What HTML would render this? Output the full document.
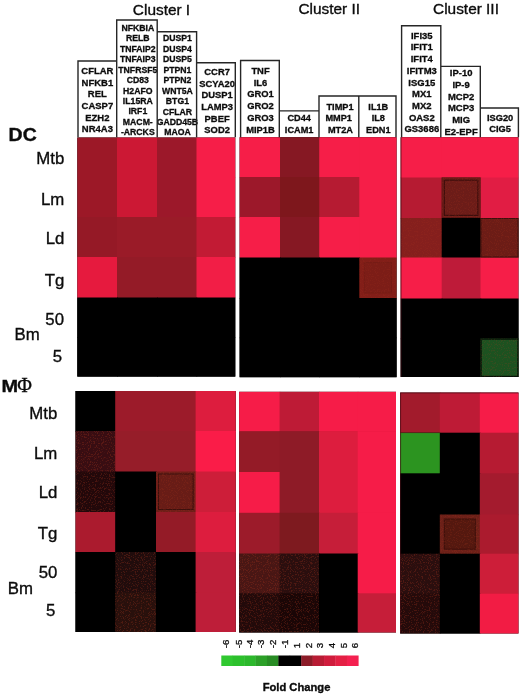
<!DOCTYPE html>
<html><head><meta charset="utf-8"><title>Figure</title>
<style>
html,body{margin:0;padding:0;background:#fff}
svg{display:block;font-family:"Liberation Sans",Arial,sans-serif}
.g text{font-weight:bold;text-anchor:middle;fill:#0c0c0c;stroke:#0c0c0c;stroke-width:.3px}
.t{fill:#0c0c0c;stroke:#0c0c0c;stroke-width:.35px}
.bd{font-weight:bold}
.phi{font-family:"Liberation Serif","DejaVu Serif",serif;font-weight:normal}
.r{fill:#0c0c0c;stroke:#0c0c0c;stroke-width:.3px}
</style></head><body>
<svg width="520" height="696" viewBox="0 0 520 696">
<defs><filter id="sp" x="0" y="0" width="100%" height="100%" color-interpolation-filters="sRGB">
<feTurbulence type="fractalNoise" baseFrequency="0.85" numOctaves="2" seed="7" result="n"/>
<feColorMatrix in="n" type="matrix" values="0 0 0 0 0  0 0 0 0 0  0 0 0 0 0  9 0 0 0 -4.9" result="a"/>
<feComposite in="SourceGraphic" in2="a" operator="in"/>
</filter></defs>
<rect width="520" height="696" fill="#fff"/>
<rect x="77.3" y="137.5" width="158.0" height="239.1" fill="#000000"/>
<rect x="77.3" y="137.5" width="40.4" height="40.2" fill="#9c1827"/>
<rect x="117" y="137.5" width="40.7" height="40.2" fill="#cc1834"/>
<rect x="157" y="137.5" width="40.2" height="40.2" fill="#9c182a"/>
<rect x="196.5" y="137.5" width="38.8" height="40.2" fill="#f61e48"/>
<rect x="77.3" y="177" width="40.4" height="40.7" fill="#9c1827"/>
<rect x="117" y="177" width="40.7" height="40.7" fill="#cc1834"/>
<rect x="157" y="177" width="40.2" height="40.7" fill="#9c182a"/>
<rect x="196.5" y="177" width="38.8" height="40.7" fill="#f61e48"/>
<rect x="77.3" y="217" width="40.4" height="40.7" fill="#951926"/>
<rect x="117" y="217" width="40.7" height="40.7" fill="#9a1b28"/>
<rect x="157" y="217" width="40.2" height="40.7" fill="#9a1b28"/>
<rect x="196.5" y="217" width="38.8" height="40.7" fill="#c21b34"/>
<rect x="77.3" y="257" width="40.4" height="41.2" fill="#e61a3e"/>
<rect x="117" y="257" width="40.7" height="41.2" fill="#941b27"/>
<rect x="157" y="257" width="40.2" height="41.2" fill="#941b27"/>
<rect x="196.5" y="257" width="38.8" height="41.2" fill="#f21e46"/>
<rect x="77.3" y="297.5" width="40.4" height="40.2" fill="#000000"/>
<rect x="117" y="297.5" width="40.7" height="40.2" fill="#000000"/>
<rect x="157" y="297.5" width="40.2" height="40.2" fill="#000000"/>
<rect x="196.5" y="297.5" width="38.8" height="40.2" fill="#000000"/>
<rect x="77.3" y="337" width="40.4" height="39.6" fill="#000000"/>
<rect x="117" y="337" width="40.7" height="39.6" fill="#000000"/>
<rect x="157" y="337" width="40.2" height="39.6" fill="#000000"/>
<rect x="196.5" y="337" width="38.8" height="39.6" fill="#000000"/>
<rect x="239.6" y="137.2" width="157.0" height="240.0" fill="#000000"/>
<rect x="239.6" y="137.2" width="41.1" height="40.5" fill="#f61e48"/>
<rect x="280" y="137.2" width="39.9" height="40.5" fill="#861823"/>
<rect x="319.2" y="137.2" width="40.8" height="40.5" fill="#f61e48"/>
<rect x="359.3" y="137.2" width="37.3" height="40.5" fill="#f61e48"/>
<rect x="239.6" y="177" width="41.1" height="40.7" fill="#9c182a"/>
<rect x="280" y="177" width="39.9" height="40.7" fill="#7e171c"/>
<rect x="319.2" y="177" width="40.8" height="40.7" fill="#b61b32"/>
<rect x="359.3" y="177" width="37.3" height="40.7" fill="#f61e48"/>
<rect x="239.6" y="217" width="41.1" height="41.2" fill="#f61e48"/>
<rect x="280" y="217" width="39.9" height="41.2" fill="#861823"/>
<rect x="319.2" y="217" width="40.8" height="41.2" fill="#f61e48"/>
<rect x="359.3" y="217" width="37.3" height="41.2" fill="#f61e48"/>
<rect x="239.6" y="257.5" width="41.1" height="41.2" fill="#000000"/>
<rect x="280" y="257.5" width="39.9" height="41.2" fill="#000000"/>
<rect x="319.2" y="257.5" width="40.8" height="41.2" fill="#000000"/>
<rect x="359.3" y="257.5" width="37.3" height="41.2" fill="#821e18"/>
<rect x="239.6" y="298" width="41.1" height="40.2" fill="#000000"/>
<rect x="280" y="298" width="39.9" height="40.2" fill="#000000"/>
<rect x="319.2" y="298" width="40.8" height="40.2" fill="#000000"/>
<rect x="359.3" y="298" width="37.3" height="40.2" fill="#000000"/>
<rect x="239.6" y="337.5" width="41.1" height="39.7" fill="#000000"/>
<rect x="280" y="337.5" width="39.9" height="39.7" fill="#000000"/>
<rect x="319.2" y="337.5" width="40.8" height="39.7" fill="#000000"/>
<rect x="359.3" y="337.5" width="37.3" height="39.7" fill="#000000"/>
<rect x="400.7" y="137.2" width="117.8" height="239.8" fill="#000000"/>
<rect x="400.7" y="137.2" width="41.7" height="41.0" fill="#f61e48"/>
<rect x="441.7" y="137.2" width="39.5" height="41.0" fill="#f61e48"/>
<rect x="480.5" y="137.2" width="38.0" height="41.0" fill="#f61e48"/>
<rect x="400.7" y="177.5" width="41.7" height="41.2" fill="#b61b32"/>
<rect x="441.7" y="177.5" width="39.5" height="41.2" fill="#741e1a"/>
<rect x="480.5" y="177.5" width="38.0" height="41.2" fill="#e11d44"/>
<rect x="400.7" y="218" width="41.7" height="40.2" fill="#851f1d"/>
<rect x="441.7" y="218" width="39.5" height="40.2" fill="#000000"/>
<rect x="480.5" y="218" width="38.0" height="40.2" fill="#6c1c16"/>
<rect x="400.7" y="257.5" width="41.7" height="41.7" fill="#f61e48"/>
<rect x="441.7" y="257.5" width="39.5" height="41.7" fill="#be1b39"/>
<rect x="480.5" y="257.5" width="38.0" height="41.7" fill="#f61e48"/>
<rect x="400.7" y="298.5" width="41.7" height="40.7" fill="#000000"/>
<rect x="441.7" y="298.5" width="39.5" height="40.7" fill="#000000"/>
<rect x="480.5" y="298.5" width="38.0" height="40.7" fill="#000000"/>
<rect x="400.7" y="338.5" width="41.7" height="38.5" fill="#000000"/>
<rect x="441.7" y="338.5" width="39.5" height="38.5" fill="#000000"/>
<rect x="480.5" y="338.5" width="38.0" height="38.5" fill="#1c5220"/>
<rect x="75.5" y="391" width="160.3" height="241" fill="#000000"/>
<rect x="75.5" y="391" width="40.4" height="40.7" fill="#000000"/>
<rect x="115.2" y="391" width="41.5" height="40.7" fill="#9c1b2a"/>
<rect x="156" y="391" width="40.3" height="40.7" fill="#9c1b2a"/>
<rect x="195.6" y="391" width="40.2" height="40.7" fill="#dd1d3e"/>
<rect x="75.5" y="431" width="40.4" height="41.2" fill="#380d12"/>
<rect x="115.2" y="431" width="41.5" height="41.2" fill="#961d29"/>
<rect x="156" y="431" width="40.3" height="41.2" fill="#961d29"/>
<rect x="195.6" y="431" width="40.2" height="41.2" fill="#fa1c48"/>
<rect x="75.5" y="471.5" width="40.4" height="41.2" fill="#22080a"/>
<rect x="115.2" y="471.5" width="41.5" height="41.2" fill="#000000"/>
<rect x="156" y="471.5" width="40.3" height="41.2" fill="#6e1e18"/>
<rect x="195.6" y="471.5" width="40.2" height="41.2" fill="#cd1e39"/>
<rect x="75.5" y="512" width="40.4" height="40.7" fill="#ab1b2e"/>
<rect x="115.2" y="512" width="41.5" height="40.7" fill="#000000"/>
<rect x="156" y="512" width="40.3" height="40.7" fill="#941b27"/>
<rect x="195.6" y="512" width="40.2" height="40.7" fill="#dd1d3e"/>
<rect x="75.5" y="552" width="40.4" height="41.2" fill="#000000"/>
<rect x="115.2" y="552" width="41.5" height="41.2" fill="#200c0c"/>
<rect x="156" y="552" width="40.3" height="41.2" fill="#000000"/>
<rect x="195.6" y="552" width="40.2" height="41.2" fill="#be1e39"/>
<rect x="75.5" y="592.5" width="40.4" height="39.5" fill="#000000"/>
<rect x="115.2" y="592.5" width="41.5" height="39.5" fill="#28100c"/>
<rect x="156" y="592.5" width="40.3" height="39.5" fill="#000000"/>
<rect x="195.6" y="592.5" width="40.2" height="39.5" fill="#be1e39"/>
<rect x="239.1" y="391.8" width="156.9" height="240.7" fill="#000000"/>
<rect x="239.1" y="391.8" width="41.2" height="40.1" fill="#f61c48"/>
<rect x="279.6" y="391.8" width="40.1" height="40.1" fill="#be1b36"/>
<rect x="319" y="391.8" width="39.4" height="40.1" fill="#f61c48"/>
<rect x="357.7" y="391.8" width="38.3" height="40.1" fill="#f61c48"/>
<rect x="239.1" y="431.2" width="41.2" height="41.5" fill="#941b27"/>
<rect x="279.6" y="431.2" width="40.1" height="41.5" fill="#8e1b27"/>
<rect x="319" y="431.2" width="39.4" height="41.5" fill="#dd1d3e"/>
<rect x="357.7" y="431.2" width="38.3" height="41.5" fill="#f61c48"/>
<rect x="239.1" y="472" width="41.2" height="41.5" fill="#f61c48"/>
<rect x="279.6" y="472" width="40.1" height="41.5" fill="#8e1b27"/>
<rect x="319" y="472" width="39.4" height="41.5" fill="#dd1d3e"/>
<rect x="357.7" y="472" width="38.3" height="41.5" fill="#f61c48"/>
<rect x="239.1" y="512.8" width="41.2" height="41.4" fill="#9c1b2a"/>
<rect x="279.6" y="512.8" width="40.1" height="41.4" fill="#7e1a1f"/>
<rect x="319" y="512.8" width="39.4" height="41.4" fill="#c61e39"/>
<rect x="357.7" y="512.8" width="38.3" height="41.4" fill="#f61c48"/>
<rect x="239.1" y="553.5" width="41.2" height="40.5" fill="#481614"/>
<rect x="279.6" y="553.5" width="40.1" height="40.5" fill="#2a0e0e"/>
<rect x="319" y="553.5" width="39.4" height="40.5" fill="#000000"/>
<rect x="357.7" y="553.5" width="38.3" height="40.5" fill="#f61c48"/>
<rect x="239.1" y="593.3" width="41.2" height="39.2" fill="#220a0a"/>
<rect x="279.6" y="593.3" width="40.1" height="39.2" fill="#1a0606"/>
<rect x="319" y="593.3" width="39.4" height="39.2" fill="#000000"/>
<rect x="357.7" y="593.3" width="38.3" height="39.2" fill="#c61e39"/>
<rect x="400.2" y="392.6" width="118.3" height="240.9" fill="#000000"/>
<rect x="400.2" y="392.6" width="40.3" height="40.8" fill="#a21b2c"/>
<rect x="439.8" y="392.6" width="40.7" height="40.8" fill="#be1b36"/>
<rect x="479.8" y="392.6" width="38.7" height="40.8" fill="#f61c48"/>
<rect x="400.2" y="432.7" width="40.3" height="41.3" fill="#2c9420"/>
<rect x="439.8" y="432.7" width="40.7" height="41.3" fill="#000000"/>
<rect x="479.8" y="432.7" width="38.7" height="41.3" fill="#b61b32"/>
<rect x="400.2" y="473.3" width="40.3" height="41.9" fill="#000000"/>
<rect x="439.8" y="473.3" width="40.7" height="41.9" fill="#000000"/>
<rect x="479.8" y="473.3" width="38.7" height="41.9" fill="#a41b2e"/>
<rect x="400.2" y="514.5" width="40.3" height="39.9" fill="#000000"/>
<rect x="439.8" y="514.5" width="40.7" height="39.9" fill="#6c2018"/>
<rect x="479.8" y="514.5" width="38.7" height="39.9" fill="#ab1b2e"/>
<rect x="400.2" y="553.7" width="40.3" height="40.7" fill="#2a0e0e"/>
<rect x="439.8" y="553.7" width="40.7" height="40.7" fill="#000000"/>
<rect x="479.8" y="553.7" width="38.7" height="40.7" fill="#cd1e39"/>
<rect x="400.2" y="593.7" width="40.3" height="39.8" fill="#240a0a"/>
<rect x="439.8" y="593.7" width="40.7" height="39.8" fill="#000000"/>
<rect x="479.8" y="593.7" width="38.7" height="39.8" fill="#f21c44"/>
<rect x="444.3" y="180.1" width="33.6" height="35.3" fill="#6c1c18" stroke="#3c0e0c" stroke-width="1.2"/>
<rect x="442.09999999999997" y="177.9" width="38.0" height="39.7" fill="none" stroke="#561412" stroke-width="0.8"/>
<rect x="481.0" y="218.5" width="37.0" height="38.5" fill="none" stroke="#3c100c" stroke-width="1"/>
<rect x="364.3" y="262.5" width="27.3" height="30.5" fill="#7c1d17" stroke="#741c16" stroke-width="0.8"/>
<rect x="158.5" y="474.0" width="34.6" height="35.5" fill="#681c16" stroke="#3c100c" stroke-width="1"/>
<rect x="444.3" y="519.0" width="31.0" height="30.2" fill="#54180f" stroke="#3c100a" stroke-width="1"/>
<rect x="481.1" y="339.1" width="36.8" height="37.3" fill="none" stroke="#061006" stroke-width="1.2"/>
<path d="M401.1 137.4V376.8M400.6 392.8V633.3M400.4 393H518.4M400.4 432.6H439.8" fill="none" stroke="#4a0a14" stroke-width="0.8" opacity="0.75"/>
<rect x="75.5" y="431" width="39.7" height="81" fill="#b03820" filter="url(#sp)" opacity="0.28"/>
<rect x="115.2" y="552" width="40.8" height="80" fill="#b03820" filter="url(#sp)" opacity="0.28"/>
<rect x="156" y="471.5" width="39.6" height="40.5" fill="#b03820" filter="url(#sp)" opacity="0.19"/>
<rect x="239.1" y="553.5" width="79.9" height="79.0" fill="#b03820" filter="url(#sp)" opacity="0.28"/>
<rect x="400.2" y="553.7" width="39.6" height="79.8" fill="#b03820" filter="url(#sp)" opacity="0.28"/>
<rect x="439.8" y="514.5" width="40.0" height="39.2" fill="#b03820" filter="url(#sp)" opacity="0.19"/>
<rect x="441.7" y="177.5" width="38.8" height="40.5" fill="#b03820" filter="url(#sp)" opacity="0.17"/>
<rect x="480.5" y="218" width="38.0" height="39.5" fill="#b03820" filter="url(#sp)" opacity="0.17"/>
<rect x="400.7" y="218" width="41.0" height="39.5" fill="#b03820" filter="url(#sp)" opacity="0.14"/>
<rect x="359.3" y="257.5" width="37.3" height="40.5" fill="#b03820" filter="url(#sp)" opacity="0.14"/>
<rect x="480.5" y="338.5" width="38.0" height="38.5" fill="#b03820" filter="url(#sp)" opacity="0.17"/>
<g class="g" font-size="9.5">
<text transform="translate(97.35 74.0) scale(1 1.002)">CFLAR</text>
<text transform="translate(97.35 85.66) scale(1 1.002)">NFKB1</text>
<text transform="translate(97.35 97.32) scale(1 1.002)">REL</text>
<text transform="translate(97.35 108.98) scale(1 1.002)">CASP7</text>
<text transform="translate(97.35 120.64) scale(1 1.002)">EZH2</text>
<text transform="translate(97.35 132.3) scale(1 1.002)">NR4A3</text>
</g>
<g class="g" font-size="8.7">
<text transform="translate(137.8 30.7) scale(1 1.002)">NFKBIA</text>
<text transform="translate(137.8 41.17) scale(1 1.002)">RELB</text>
<text transform="translate(137.8 51.64) scale(1 1.002)">TNFAIP2</text>
<text transform="translate(137.8 62.11) scale(1 1.002)">TNFAIP3</text>
<text transform="translate(137.8 72.58) scale(1 1.002)">TNFRSF5</text>
<text transform="translate(137.8 83.05) scale(1 1.002)">CD83</text>
<text transform="translate(137.8 93.52) scale(1 1.002)">H2AFO</text>
<text transform="translate(137.8 103.99) scale(1 1.002)">IL15RA</text>
<text transform="translate(137.8 114.46) scale(1 1.002)">IRF1</text>
<text transform="translate(137.8 124.93) scale(1 1.002)">MACM-</text>
<text transform="translate(137.8 135.4) scale(1 1.002)">-ARCKS</text>
</g>
<g class="g" font-size="8.7">
<text transform="translate(177.4 41.3) scale(1 1.002)">DUSP1</text>
<text transform="translate(177.4 51.76) scale(1 1.002)">DUSP4</text>
<text transform="translate(177.4 62.22) scale(1 1.002)">DUSP5</text>
<text transform="translate(177.4 72.68) scale(1 1.002)">PTPN1</text>
<text transform="translate(177.4 83.14) scale(1 1.002)">PTPN2</text>
<text transform="translate(177.4 93.6) scale(1 1.002)">WNT5A</text>
<text transform="translate(177.4 104.06) scale(1 1.002)">BTG1</text>
<text transform="translate(177.4 114.52) scale(1 1.002)">CFLAR</text>
<text transform="translate(177.4 124.98) scale(1 1.002)">GADD45B</text>
<text transform="translate(177.4 135.44) scale(1 1.002)">MAOA</text>
</g>
<g class="g" font-size="9.4">
<text transform="translate(217.1 74.9) scale(1 1.002)">CCR7</text>
<text transform="translate(217.1 86.6) scale(1 1.002)">SCYA20</text>
<text transform="translate(217.1 98.3) scale(1 1.002)">DUSP1</text>
<text transform="translate(217.1 110.0) scale(1 1.002)">LAMP3</text>
<text transform="translate(217.1 121.7) scale(1 1.002)">PBEF</text>
<text transform="translate(217.1 133.4) scale(1 1.002)">SOD2</text>
</g>
<g class="g" font-size="9.4">
<text transform="translate(260.5 73.9) scale(1 1.002)">TNF</text>
<text transform="translate(260.5 85.65) scale(1 1.002)">IL6</text>
<text transform="translate(260.5 97.4) scale(1 1.002)">GRO1</text>
<text transform="translate(260.5 109.15) scale(1 1.002)">GRO2</text>
<text transform="translate(260.5 120.9) scale(1 1.002)">GRO3</text>
<text transform="translate(260.5 132.65) scale(1 1.002)">MIP1B</text>
</g>
<g class="g" font-size="9.2">
<text transform="translate(299.15 121.3) scale(1 1.002)">CD44</text>
<text transform="translate(299.15 132.8) scale(1 1.002)">ICAM1</text>
</g>
<g class="g" font-size="9.2">
<text transform="translate(340 109.7) scale(1 1.002)">TIMP1</text>
<text transform="translate(338.7 121.4) scale(1 1.002)">MMP1</text>
<text transform="translate(340.4 133.1) scale(1 1.002)">MT2A</text>
</g>
<g class="g" font-size="9.2">
<text transform="translate(378.3 109.7) scale(1 1.002)">IL1B</text>
<text transform="translate(378.3 121.4) scale(1 1.002)">IL8</text>
<text transform="translate(378.3 133.1) scale(1 1.002)">EDN1</text>
</g>
<g class="g" font-size="9.5">
<text transform="translate(421.8 38.7) scale(1 1.002)">IFI35</text>
<text transform="translate(421.8 50.42) scale(1 1.002)">IFIT1</text>
<text transform="translate(421.8 62.14) scale(1 1.002)">IFIT4</text>
<text transform="translate(421.8 73.86) scale(1 1.002)">IFITM3</text>
<text transform="translate(421.8 85.58) scale(1 1.002)">ISG15</text>
<text transform="translate(421.8 97.3) scale(1 1.002)">MX1</text>
<text transform="translate(421.8 109.02) scale(1 1.002)">MX2</text>
<text transform="translate(421.8 120.74) scale(1 1.002)">OAS2</text>
<text transform="translate(421.8 132.46) scale(1 1.002)">GS3686</text>
</g>
<g class="g" font-size="9.5">
<text transform="translate(461.1 76.2) scale(1 1.002)">IP-10</text>
<text transform="translate(461.1 87.9) scale(1 1.002)">IP-9</text>
<text transform="translate(461.1 99.6) scale(1 1.002)">MCP2</text>
<text transform="translate(461.1 111.3) scale(1 1.002)">MCP3</text>
<text transform="translate(461.1 123.0) scale(1 1.002)">MIG</text>
<text transform="translate(461.1 134.7) scale(1 1.002)">E2-EPF</text>
</g>
<g class="g" font-size="9.3">
<text transform="translate(500.1 121.2) scale(1 1.002)">ISG20</text>
<text transform="translate(500.1 132.2) scale(1 1.002)">CIG5</text>
</g>
<path d="M78 137.3V61H116.7V137.3M116.7 137.3V20H157.2V137.3M157.2 31.7H196.6V137.3M196.6 137.3V62.8H235.3V137.3M240.6 137.3V60.5H279.3V137.3M279.3 110.9H319V137.3M319 137.3V96H358.8V137.3M358.8 96H396V137.3M401.6 137.3V25.7H440.8V137.3M440.8 66.4H480.3V137.3M480.3 108H518.4V137.3" fill="none" stroke="#262626" stroke-width="1.4"/>
<text class="t" x="161.5" y="14.8" font-size="15.4" text-anchor="middle">Cluster I</text>
<text class="t" x="329.3" y="14.3" font-size="15.4" text-anchor="middle">Cluster II</text>
<text class="t" x="466" y="14.1" font-size="15.4" text-anchor="middle">Cluster III</text>
<text class="t bd" font-size="18" transform="translate(8.6 140.6) scale(1.08 1)">DC</text>
<text class="t" x="64.3" y="164.4" font-size="16.8" text-anchor="end">Mtb</text>
<text class="t" x="64.3" y="205" font-size="16.8" text-anchor="end">Lm</text>
<text class="t" x="64.3" y="244" font-size="16.8" text-anchor="end">Ld</text>
<text class="t" x="64.3" y="286.2" font-size="16.8" text-anchor="end">Tg</text>
<text class="t" x="64" y="324.5" font-size="16.8" text-anchor="end">50</text>
<text class="t" x="14.5" y="339.6" font-size="16.8" text-anchor="start">Bm</text>
<text class="t" x="62" y="362.1" font-size="16.8" text-anchor="end">5</text>
<text class="t bd" font-size="17" transform="translate(1.5 391.7) scale(1.17 1)">M</text>
<text class="t phi" font-size="20" x="17.3" y="391.9">Φ</text>
<text class="t" x="57.3" y="418.9" font-size="16.8" text-anchor="end">Mtb</text>
<text class="t" x="57.3" y="459.2" font-size="16.8" text-anchor="end">Lm</text>
<text class="t" x="57.3" y="498.2" font-size="16.8" text-anchor="end">Ld</text>
<text class="t" x="57.3" y="539.3" font-size="16.8" text-anchor="end">Tg</text>
<text class="t" x="57.3" y="578.1" font-size="16.8" text-anchor="end">50</text>
<text class="t" x="7.7" y="593.6" font-size="16.8" text-anchor="start">Bm</text>
<text class="t" x="55.3" y="615.8" font-size="16.8" text-anchor="end">5</text>
<rect x="221.3" y="655.5" width="11.72" height="10.5" fill="#30c830"/>
<rect x="232.72" y="655.5" width="11.71" height="10.5" fill="#2cc02c"/>
<rect x="244.13" y="655.5" width="11.72" height="10.5" fill="#2cb82c"/>
<rect x="255.55" y="655.5" width="11.72" height="10.5" fill="#2ca028"/>
<rect x="266.97" y="655.5" width="11.71" height="10.5" fill="#288c24"/>
<rect x="278.38" y="655.5" width="11.72" height="10.5" fill="#000000"/>
<rect x="289.8" y="655.5" width="11.72" height="10.5" fill="#000000"/>
<rect x="301.22" y="655.5" width="11.71" height="10.5" fill="#8c1c28"/>
<rect x="312.63" y="655.5" width="11.72" height="10.5" fill="#b81c34"/>
<rect x="324.05" y="655.5" width="11.72" height="10.5" fill="#d01c3c"/>
<rect x="335.47" y="655.5" width="11.71" height="10.5" fill="#e42044"/>
<rect x="346.88" y="655.5" width="11.72" height="10.5" fill="#f42050"/>
<text class="r" font-size="8.6" transform="translate(229.4 648.2) rotate(-90) scale(1.12 1)">-6</text>
<text class="r" font-size="8.6" transform="translate(241.9 648.2) rotate(-90) scale(1.12 1)">-5</text>
<text class="r" font-size="8.6" transform="translate(253.1 648.2) rotate(-90) scale(1.12 1)">-4</text>
<text class="r" font-size="8.6" transform="translate(264.4 648.2) rotate(-90) scale(1.12 1)">-3</text>
<text class="r" font-size="8.6" transform="translate(275.8 648.2) rotate(-90) scale(1.12 1)">-2</text>
<text class="r" font-size="8.6" transform="translate(288.1 648.2) rotate(-90) scale(1.12 1)">-1</text>
<text class="r" font-size="8.6" transform="translate(299.7 648.2) rotate(-90) scale(1.12 1)">1</text>
<text class="r" font-size="8.6" transform="translate(311.6 648.2) rotate(-90) scale(1.12 1)">2</text>
<text class="r" font-size="8.6" transform="translate(323.1 648.2) rotate(-90) scale(1.12 1)">3</text>
<text class="r" font-size="8.6" transform="translate(335.1 648.2) rotate(-90) scale(1.12 1)">4</text>
<text class="r" font-size="8.6" transform="translate(346.5 648.2) rotate(-90) scale(1.12 1)">5</text>
<text class="r" font-size="8.6" transform="translate(358.1 648.2) rotate(-90) scale(1.12 1)">6</text>
<text class="t bd" x="296.5" y="691" font-size="11.2" text-anchor="middle">Fold Change</text>
</svg>
</body></html>
